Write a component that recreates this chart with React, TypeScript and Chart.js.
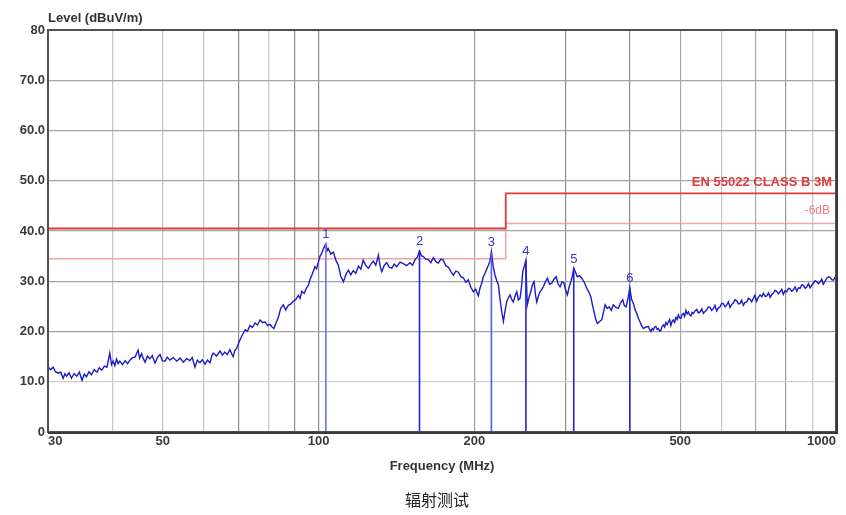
import { useEffect, useRef } from "react";
import { Chart, registerables } from "chart.js";

Chart.register(...registerables);

// Measured trace: frequency (MHz)
const freqMHz = [
  30.0, 30.35, 30.7, 31.0, 31.4, 31.75, 32.1, 32.35, 32.6, 32.95,
  33.3, 33.7, 34.1, 34.5, 34.9, 35.25, 35.6, 36.0, 36.4, 36.85,
  37.3, 37.7, 38.1, 38.55, 39.0, 39.5, 39.8, 40.1, 40.4, 40.7,
  41.0, 41.3, 41.8, 42.3, 42.75, 43.2, 43.7, 44.2, 44.8, 45.1,
  45.5, 45.85, 46.2, 46.7, 47.2, 47.7, 48.3, 48.85, 49.4, 49.9,
  50.5, 51.0, 51.6, 52.4, 53.2, 54.0, 54.8, 55.6, 56.4, 57.0,
  57.7, 58.3, 59.0, 59.6, 60.3, 61.0, 61.7, 62.2, 62.6, 63.5,
  64.5, 65.2, 65.9, 66.6, 67.4, 67.9, 68.4, 68.9, 69.5, 70.2,
  71.0, 71.5, 72.1, 72.9, 73.7, 74.5, 75.4, 76.2, 77.1, 77.9,
  78.8, 79.7, 80.6, 81.3, 82.0, 82.8, 83.6, 84.5, 85.5, 86.4,
  87.4, 88.4, 89.4, 90.4, 91.4, 92.1, 92.8, 93.8, 94.9, 95.6,
  96.3, 97.3, 98.4, 99.1, 99.9, 100.6, 101.4, 102.3, 103.3, 103.9,
  104.4, 105.6, 106.8, 108.0, 109.2, 110.4, 111.7, 113.0, 114.2, 115.4,
  116.7, 118.0, 119.4, 120.7, 122.0, 123.4, 124.8, 126.2, 127.6, 129.0,
  130.5, 131.5, 132.5, 134.0, 135.4, 137.0, 138.5, 140.0, 141.6, 143.7,
  145.8, 148.0, 150.2, 151.9, 153.6, 155.2, 156.7, 158.0, 159.4, 161.2,
  163.0, 164.8, 166.7, 168.5, 170.4, 172.3, 174.2, 176.2, 178.2, 180.2,
  182.2, 184.2, 186.3, 188.4, 190.5, 192.6, 194.7, 196.9, 199.1, 201.3,
  203.6, 205.1, 206.7, 208.2, 209.8, 211.3, 212.9, 214.4, 215.8, 217.5,
  219.3, 221.0, 222.6, 223.8, 225.0, 226.3, 227.6, 229.3, 231.0, 232.7,
  234.5, 236.2, 237.9, 239.7, 241.6, 243.3, 245.1, 246.6, 248.1, 249.8,
  251.6, 252.4, 253.2, 255.1, 257.1, 259.0, 260.9, 262.5, 264.1, 266.0,
  268.0, 270.0, 272.0, 274.4, 276.8, 279.5, 282.3, 285.0, 287.8, 290.3,
  292.9, 295.5, 298.1, 300.3, 302.6, 304.9, 307.2, 309.3, 311.3, 313.8,
  316.3, 319.4, 322.6, 326.2, 329.8, 332.8, 335.8, 338.2, 340.7, 343.2,
  345.8, 349.2, 352.6, 355.2, 357.8, 361.2, 364.7, 368.0, 371.3, 375.5,
  379.7, 383.4, 387.2, 390.0, 392.9, 396.2, 399.5, 402.7, 405.9, 409.0,
  412.1, 415.1, 418.2, 421.3, 424.4, 429.1, 433.9, 436.3, 438.8, 441.2,
  443.7, 446.2, 448.7, 451.2, 453.7, 456.2, 458.8, 461.3, 463.9, 466.4,
  469.0, 471.6, 474.3, 476.9, 479.6, 482.3, 485.0, 487.7, 490.4, 493.1,
  495.9, 498.7, 501.5, 504.3, 507.1, 509.9, 512.8, 515.6, 518.5, 521.4,
  524.3, 527.2, 530.1, 534.0, 538.0, 542.1, 546.2, 550.3, 554.4, 558.5,
  562.7, 566.8, 571.0, 575.2, 579.5, 583.7, 588.0, 592.5, 597.0, 601.5,
  606.0, 610.5, 615.1, 619.5, 624.0, 628.7, 633.5, 638.2, 643.0, 647.8,
  652.6, 657.3, 662.0, 667.2, 672.4, 677.2, 682.0, 687.2, 692.4, 697.2,
  702.0, 707.7, 713.4, 718.7, 724.0, 729.5, 735.0, 740.5, 746.0, 751.4,
  756.8, 762.4, 768.0, 773.9, 779.8, 785.4, 791.0, 797.2, 803.4, 809.2,
  815.0, 821.2, 827.3, 833.6, 840.0, 846.2, 852.4, 858.7, 865.0, 871.6,
  878.2, 884.6, 891.0, 897.6, 904.3, 911.2, 918.0, 924.8, 931.7, 938.4,
  945.0, 952.4, 959.9, 967.0, 974.0, 981.2, 988.5, 994.2, 1000.0,
];

// Measured trace: level (dBuV/m)
const levelDb = [
  13.0, 12.4, 12.9, 12.0, 11.7, 11.9, 10.7, 11.6, 11.1, 11.8,
  10.7, 11.6, 11.1, 11.9, 10.3, 11.5, 11.0, 12.0, 11.4, 12.4,
  11.9, 12.8, 12.3, 13.1, 12.9, 15.7, 13.4, 14.1, 13.2, 14.5,
  13.6, 14.1, 13.4, 14.2, 13.6, 14.3, 14.8, 14.9, 16.3, 14.7,
  15.6, 14.6, 13.9, 15.1, 14.6, 15.2, 13.7, 14.9, 15.4, 14.2,
  14.1, 14.9, 14.3, 14.8, 14.1, 14.7, 13.9, 14.6, 14.2, 14.8,
  12.9, 14.3, 13.8, 14.4, 13.5, 14.3, 13.8, 15.2, 15.7, 15.1,
  16.1, 15.3, 15.9, 15.4, 16.4, 15.6, 15.0, 16.2, 16.7, 17.9,
  19.0, 19.6, 20.3, 20.1, 21.2, 20.8, 21.7, 21.3, 22.3, 21.8,
  21.9, 21.2, 21.4, 20.9, 20.6, 21.8, 22.8, 24.6, 25.3, 24.3,
  25.2, 25.5, 26.0, 26.4, 27.2, 26.6, 28.0, 27.6, 28.8, 29.2,
  30.4, 31.5, 32.9, 32.5, 33.8, 34.9, 35.6, 36.6, 37.4, 36.1,
  36.5, 35.4, 35.8, 34.2, 33.2, 31.0, 29.9, 31.4, 32.2, 31.3,
  32.1, 31.6, 33.0, 32.4, 34.2, 33.1, 32.6, 33.4, 34.0, 33.2,
  35.2, 33.0, 31.9, 33.2, 33.7, 32.8, 32.6, 33.4, 32.9, 33.8,
  33.5, 33.1, 33.7, 33.2, 34.3, 34.8, 36.0, 35.1, 34.9, 34.4,
  34.3, 33.7, 34.7, 33.9, 33.6, 34.4, 34.2, 33.1, 32.8, 31.9,
  31.2, 32.0, 31.8, 30.9, 30.7, 29.8, 30.3, 28.8, 27.9, 28.4,
  27.1, 28.6, 29.6, 30.9, 31.6, 32.4, 33.2, 34.0, 35.9, 33.0,
  31.2, 30.1, 29.3, 27.2, 25.3, 23.5, 22.0, 24.1, 25.9, 26.7,
  27.3, 26.4, 25.9, 27.0, 27.9, 26.3, 26.6, 28.7, 31.9, 33.0,
  34.2, 29.0, 25.3, 26.8, 27.9, 29.3, 29.9, 27.4, 25.9, 27.0,
  27.9, 28.4, 28.9, 29.9, 30.6, 29.4, 29.6, 30.4, 30.9, 29.5,
  28.9, 29.9, 29.6, 28.2, 27.3, 28.8, 29.9, 31.0, 32.6, 31.8,
  30.9, 31.1, 30.6, 29.8, 28.6, 27.9, 26.9, 25.4, 23.9, 22.5,
  21.6, 22.0, 22.3, 23.8, 25.3, 24.6, 24.9, 24.2, 25.3, 24.8,
  24.6, 25.7, 26.3, 25.1, 24.9, 26.5, 28.7, 26.4, 25.6, 24.3,
  23.6, 22.6, 21.9, 21.1, 20.6, 20.9, 21.0, 20.4, 20.0, 20.6,
  20.3, 20.9, 21.0, 20.4, 20.6, 20.1, 20.2, 21.0, 21.3, 20.9,
  21.8, 21.4, 21.9, 22.4, 21.2, 22.0, 22.3, 21.8, 22.8, 22.4,
  23.3, 22.7, 22.6, 23.4, 23.6, 23.0, 24.2, 23.5, 23.9, 23.3,
  23.1, 23.8, 23.6, 24.1, 24.4, 23.7, 23.9, 24.5, 23.6, 24.0,
  24.3, 24.9, 24.8, 24.2, 24.6, 25.2, 24.1, 24.7, 24.9, 25.6,
  25.5, 24.9, 25.3, 25.9, 24.8, 25.4, 25.7, 26.3, 26.1, 25.5,
  25.6, 26.2, 25.2, 25.8, 25.9, 26.6, 26.4, 25.9, 26.6, 27.2,
  26.0, 26.8, 27.3, 26.9, 27.6, 27.0, 27.1, 27.7, 26.8, 27.4,
  27.6, 28.2, 28.0, 27.5, 27.9, 28.4, 27.4, 28.1, 27.9, 28.6,
  28.5, 28.0, 28.3, 28.9, 28.0, 28.7, 28.6, 29.3, 29.2, 28.6,
  28.9, 29.5, 28.7, 29.2, 29.6, 30.1, 29.9, 29.5, 29.9, 30.4,
  29.4, 30.0, 30.6, 30.9, 30.8, 30.3, 30.2, 30.7, 30.4,
];

// EN 55022 Class B 3 m limit and the -6 dB margin line
const limitFreq = [30, 230, 230, 1000];
const limitLevel = [40.5, 40.5, 47.5, 47.5];
const marginLevel = [34.5, 34.5, 41.5, 41.5];

// Peak markers
const markerNames = ["1", "2", "3", "4", "5", "6"];
const markerFreq = [103.3, 156.7, 215.8, 251.6, 311.3, 399.5];
const markerLevel = [37.6, 36.2, 35.9, 34.2, 32.6, 28.7];
const markerColors = ["#7070ee", "#2424d4", "#5a5ae8", "#2424d4", "#2424d4", "#2424d4"];

// Axes
const xGridValues = [30, 40, 50, 60, 70, 80, 90, 100, 200, 300, 400, 500, 600, 700, 800, 900, 1000];
const xLabelValues = [30, 50, 100, 200, 500, 1000];
const yTickValues = [0, 10, 20, 30, 40, 50, 60, 70, 80];

const xGridColor: Record<number, string> = {
  40: "#c4c4c4", 50: "#c4c4c4", 60: "#c4c4c4", 70: "#8c8c8c", 80: "#c4c4c4", 90: "#8c8c8c",
  100: "#8c8c8c", 200: "#a0a0a0", 300: "#8c8c8c", 400: "#8c8c8c", 500: "#a8a8a8", 600: "#c4c4c4",
  700: "#a8a8a8", 800: "#9a9a9a", 900: "#c4c4c4",
};

const FONT = "'Liberation Sans', Arial, sans-serif";

export default function App() {
  const ref = useRef<HTMLCanvasElement | null>(null);

  useEffect(() => {
    const canvas = ref.current;
    if (!canvas) return;

    const trace = freqMHz.map((f, i) => ({ x: f, y: levelDb[i] }));
    const limit = limitFreq.map((f, i) => ({ x: f, y: limitLevel[i] }));
    const margin = limitFreq.map((f, i) => ({ x: f, y: marginLevel[i] }));

    const markerSets = markerFreq.map((f, i) => ({
      label: "M" + markerNames[i],
      data: [
        { x: f, y: 0 },
        { x: f, y: markerLevel[i] },
      ],
      borderColor: markerColors[i],
      borderWidth: 1.6,
      pointRadius: 0,
      order: 0,
    }));

    const overlay = {
      id: "overlay",
      afterDraw(chart: any) {
        const ctx = chart.ctx as CanvasRenderingContext2D;
        const { left, right, top, bottom } = chart.chartArea;
        const xs = chart.scales.x;
        const ys = chart.scales.y;
        ctx.save();
        // frame
        ctx.strokeStyle = "#505050";
        ctx.lineWidth = 2;
        ctx.strokeRect(left, top, right - left, bottom - top);
        ctx.strokeStyle = "#3a3a3a";
        ctx.beginPath();
        ctx.moveTo(left, bottom + 1);
        ctx.lineTo(right + 1, bottom + 1);
        ctx.lineTo(right + 1, top);
        ctx.stroke();

        // axis titles
        ctx.fillStyle = "#333";
        ctx.font = `bold 13px ${FONT}`;
        ctx.textBaseline = "middle";
        ctx.textAlign = "left";
        ctx.fillText("Level (dBuV/m)", left, top - 12);
        ctx.textAlign = "center";
        ctx.fillText("Frequency (MHz)", (left + right) / 2, 466);

        // limit labels
        ctx.textAlign = "right";
        ctx.fillStyle = "#e03a3a";
        ctx.font = `bold 13px ${FONT}`;
        ctx.fillText("EN 55022 CLASS B 3M", right - 4, ys.getPixelForValue(limitLevel[3]) - 11);
        ctx.fillStyle = "#ec7f7f";
        ctx.font = `12px ${FONT}`;
        ctx.fillText("-6dB", right - 6, ys.getPixelForValue(marginLevel[3]) - 13);

        // marker labels
        ctx.textAlign = "center";
        ctx.font = `13px ${FONT}`;
        markerFreq.forEach((f, i) => {
          ctx.fillStyle = "#3434cc";
          ctx.fillText(markerNames[i], xs.getPixelForValue(f), ys.getPixelForValue(markerLevel[i]) - 9);
        });

        // caption
        ctx.fillStyle = "#222";
        ctx.font = `16px 'Noto Sans CJK SC', sans-serif`;
        ctx.fillText("辐射测试", 437, 500);
        ctx.restore();
      },
    };

    const chart = new Chart(canvas, {
      type: "line",
      data: {
        datasets: [
          ...markerSets,
          {
            label: "Level",
            data: trace,
            borderColor: "#1c1cc4",
            borderWidth: 1.4,
            pointRadius: 0,
            tension: 0,
            order: 1,
          },
          {
            label: "Limit",
            data: limit,
            borderColor: "#e23b3b",
            borderWidth: 1.8,
            pointRadius: 0,
            order: 2,
          },
          {
            label: "-6dB",
            data: margin,
            borderColor: "rgba(240,150,150,0.85)",
            borderWidth: 1.5,
            pointRadius: 0,
            order: 3,
          },
        ] as any,
      },
      options: {
        animation: false,
        responsive: false,
        devicePixelRatio: 1,
        parsing: false as any,
        layout: { padding: { left: 0, right: 10, top: 30, bottom: 0 } },
        plugins: {
          legend: { display: false },
          tooltip: { enabled: false },
          title: { display: false },
        },
        scales: {
          x: {
            type: "logarithmic",
            min: 30,
            max: 1000,
            afterBuildTicks: (scale: any) => {
              scale.ticks = xGridValues.map((v) => ({ value: v }));
            },
            afterFit: (scale: any) => {
              scale.height = 83;
            },
            ticks: {
              autoSkip: false,
              maxRotation: 0,
              align: "inner",
              padding: 2,
              color: "#3a3a3a",
              font: { family: FONT, size: 13, weight: "bold" },
              callback: (value: any) => (xLabelValues.includes(Number(value)) ? String(value) : ""),
            },
            grid: {
              drawTicks: false,
              color: (c: any) => xGridColor[c.tick?.value] ?? "rgba(0,0,0,0)",
              lineWidth: 1.2,
            },
            border: { display: false },
          },
          y: {
            type: "linear",
            min: 0,
            max: 80,
            afterBuildTicks: (scale: any) => {
              scale.ticks = yTickValues.map((v) => ({ value: v }));
            },
            afterFit: (scale: any) => {
              scale.width = 48;
            },
            ticks: {
              padding: 3,
              color: "#3a3a3a",
              font: { family: FONT, size: 13, weight: "bold" },
              callback: (value: any) => {
                const v = Number(value);
                return v === 0 || v === 80 ? String(v) : v.toFixed(1);
              },
            },
            grid: {
              drawTicks: false,
              color: (c: any) => (c.tick?.value === 10 ? "#cfcfcf" : "#a4a4a4"),
              lineWidth: 1.2,
            },
            border: { display: false },
          },
        },
      } as any,
      plugins: [overlay],
    });

    return () => chart.destroy();
  }, []);

  return (
    <div style={{ position: "absolute", left: 0, top: 0, width: 846, height: 515, background: "#fff" }}>
      <canvas ref={ref} width={846} height={515} style={{ width: 846, height: 515, display: "block" }} />
    </div>
  );
}
